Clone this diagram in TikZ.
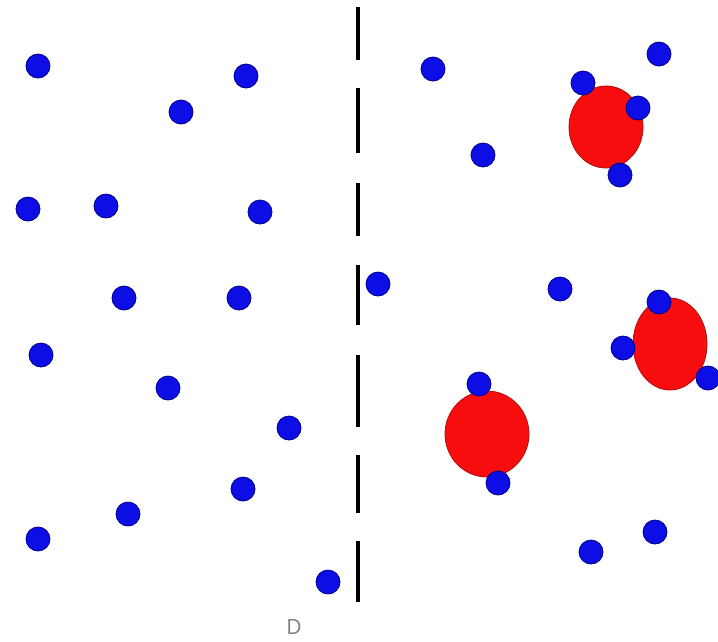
\documentclass[tikz,border=0pt]{standalone}
\usepackage{fontspec}
\setmainfont{Open Sans}
\usepackage{tikz}
\usetikzlibrary{positioning}
\definecolor{dotblue}{rgb}{0.05,0.05,0.9}
\definecolor{dotrim}{rgb}{0.0,0.0,0.55}
\definecolor{blobred}{rgb}{0.97,0.05,0.05}
\definecolor{blobrim}{rgb}{0.7,0.05,0.05}

\begin{document}
\begin{tikzpicture}[x=1pt,y=-1pt,
    dot/.style={draw=dotrim,fill=dotblue,shape=circle,minimum size=24pt,line width=0.8pt,inner sep=0},
    blob/.style={draw=blobrim,fill=blobred,line width=0.8pt}]
          \useasboundingbox (0,0) rectangle (718,641);
          % Draw the red blobs
          \draw[blob] (606,127) ellipse [x radius=37, y radius=41];
          \draw[blob] (487,434) ellipse [x radius=42, y radius=43];
          \draw[blob] (670,344) ellipse [x radius=37, y radius=46];
          % Draw the dashed wall
          \foreach \ya/\yb in {7/60, 88/153, 183/236, 265/325, 355/427, 455/513, 541/602}
            \draw[line width=3.5pt] (358,\ya) -- (358,\yb);
          % Draw the blue dots on the left
          \foreach \x/\y [count=\i] in {38/66, 246/76, 181/112, 28/209, 106/206, 260/212,
              124/298, 239/298, 41/355, 168/388, 289/428, 243/489, 128/514, 38/539, 328/582}
            \node[dot] (l\i) at (\x,\y) {};
          % Draw the blue dots on the right
          \foreach \x/\y [count=\i] in {433/69, 659/54, 583/83, 638/108, 483/155, 620/175,
              378/284, 560/289, 659/302, 623/348, 708/378, 479/384, 498/483, 655/532, 591/552}
            \node[dot] (r\i) at (\x,\y) {};
          % Label
          \node[gray,font=\fontsize{21}{21}\selectfont,inner sep=0] (lab) at (294,627) {D};
        \end{tikzpicture}
\end{document}
